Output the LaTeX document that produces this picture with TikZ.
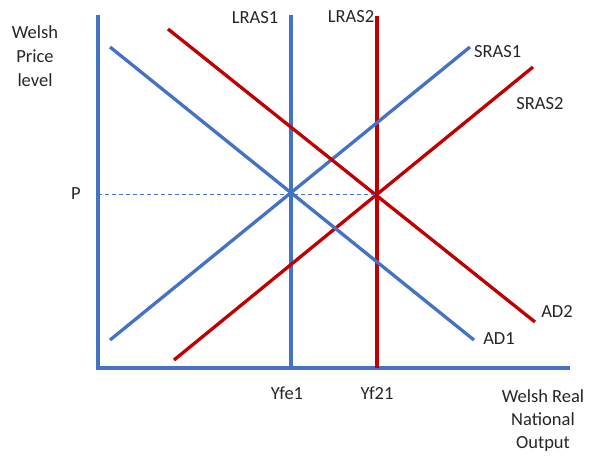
\documentclass[tikz,border=0pt]{standalone}
\usepackage{fontspec}
\setmainfont{Carlito}
\begin{document}
\begin{tikzpicture}[x=1pt,y=-1pt,
  blueline/.style={draw={rgb,255:red,68;green,114;blue,196},line width=3.3pt},
  redline/.style={draw={rgb,255:red,192;green,0;blue,0},line width=3.3pt},
  lbl/.style={font=\fontsize{18.5}{24}\selectfont,text={rgb,255:red,38;green,38;blue,38},inner sep=0pt,align=center}]
\useasboundingbox (0,0) rectangle (592,456);
% axes
\coordinate (O) at (98,368);
\coordinate (ytop) at (98,15);
\coordinate (xend) at (570,368);
\draw[blueline] (ytop) -- (O) -- (xend);
% long-run supply
\coordinate (l1t) at (291,15);  \coordinate (l1b) at (291,368);
\coordinate (l2t) at (377,16);  \coordinate (l2b) at (377,368);
\draw[blueline] (l1t) -- (l1b);
\draw[redline] (l2t) -- (l2b);
% short-run supply
\coordinate (s1a) at (110,340); \coordinate (s1b) at (470,47);
\coordinate (s2a) at (174,360); \coordinate (s2b) at (533,67);
\draw[blueline] (s1a) -- (s1b);
\draw[redline] (s2a) -- (s2b);
% demand
\coordinate (d1a) at (110,47); \coordinate (d1b) at (474,340);
\coordinate (d2a) at (168,29); \coordinate (d2b) at (535,322);
\draw[blueline] (d1a) -- (d1b);
\draw[redline] (d2a) -- (d2b);
% price level
\coordinate (p0) at (98,194); \coordinate (p1) at (377,194);
\draw[draw={rgb,255:red,68;green,114;blue,196},line width=0.8pt,dash pattern=on 4pt off 3pt] (p0) -- (p1);
% labels
\node[lbl] (ylab) at (35,56) {Welsh\\Price\\level};
\node[lbl] (plab) at (76,194) {P};
\node[lbl] (lr1) at (255,18) {LRAS1};
\node[lbl] (lr2) at (351,17) {LRAS2};
\node[lbl,anchor=west] (sr1) at (474,52) {SRAS1};
\node[lbl] (sr2) at (540,104) {SRAS2};
\node[lbl] (ad2) at (557,311) {AD2};
\node[lbl] (ad1) at (499,339) {AD1};
\node[lbl] (yfe) at (287,393) {Yfe1};
\node[lbl] (yf2) at (377,393) {Yf21};
\node[lbl,font=\fontsize{18.5}{23}\selectfont] (xlab) at (543,421) {Welsh Real\\National\\Output};
\end{tikzpicture}
\end{document}
